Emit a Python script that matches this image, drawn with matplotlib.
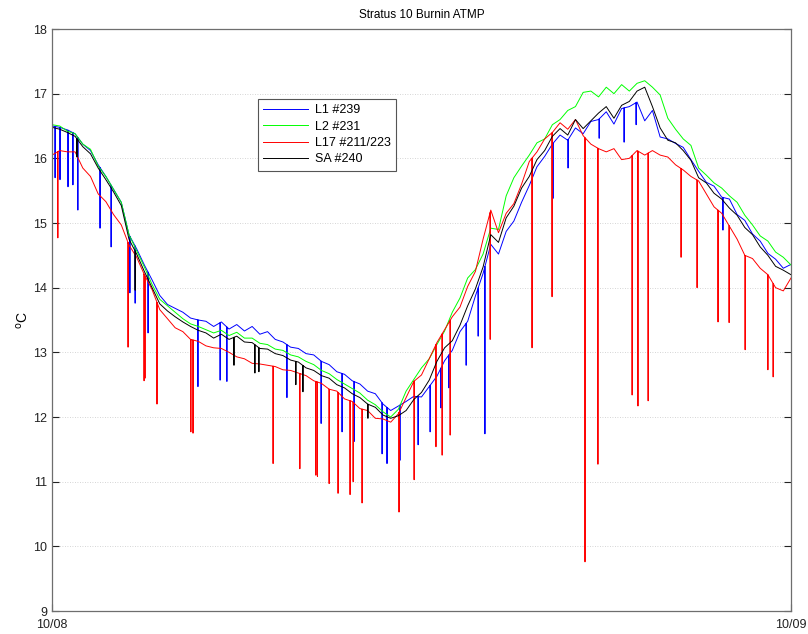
import numpy as np
import matplotlib
matplotlib.use("Agg")
import matplotlib.pyplot as plt

plt.rcParams['font.family'] = ['Liberation Sans', 'DejaVu Sans']

# time axis in hours after 10/08 00:00, 0.25 h spacing
hours = np.arange(0, 24.001, 0.25)

l2_231 = [16.52, 16.50, 16.42, 16.38, 16.22, 16.14, 15.88, 15.72, 15.52, 15.32,
          14.82, 14.57, 14.32, 14.05, 13.82, 13.72, 13.62, 13.52, 13.44, 13.40,
          13.35, 13.30, 13.34, 13.26, 13.31, 13.22, 13.22, 13.14, 13.12, 13.05,
          13.03, 12.96, 12.93, 12.86, 12.81, 12.72, 12.67, 12.58, 12.51, 12.44,
          12.37, 12.26, 12.19, 12.08, 12.00, 12.12, 12.40, 12.58, 12.76, 12.90,
          13.12, 13.33, 13.62, 13.84, 14.15, 14.28, 14.52, 14.92, 14.90, 15.42,
          15.70, 15.88, 16.05, 16.24, 16.30, 16.52, 16.60, 16.74, 16.80, 17.02,
          17.04, 16.95, 17.10, 17.00, 17.14, 17.04, 17.16, 17.20, 17.10, 16.98,
          16.62, 16.45, 16.30, 16.20, 15.85, 15.74, 15.62, 15.54, 15.42, 15.32,
          15.12, 14.97, 14.80, 14.72, 14.55, 14.47, 14.35]

sa_240 = [16.48, 16.45, 16.40, 16.34, 16.18, 16.07, 15.85, 15.67, 15.48, 15.27,
          14.75, 14.52, 14.25, 14.00, 13.75, 13.64, 13.55, 13.47, 13.40, 13.34,
          13.30, 13.22, 13.28, 13.20, 13.25, 13.16, 13.15, 13.06, 13.05, 12.98,
          12.95, 12.88, 12.85, 12.76, 12.72, 12.64, 12.60, 12.50, 12.45, 12.36,
          12.30, 12.20, 12.15, 12.03, 11.98, 12.02, 12.10, 12.27, 12.38, 12.57,
          12.86, 13.07, 13.18, 13.42, 13.72, 13.98, 14.32, 14.82, 14.70, 15.08,
          15.26, 15.54, 15.72, 15.98, 16.12, 16.34, 16.46, 16.36, 16.60, 16.46,
          16.58, 16.70, 16.80, 16.62, 16.82, 16.88, 17.04, 17.10, 16.80, 16.47,
          16.28, 16.24, 16.12, 15.97, 15.70, 15.62, 15.46, 15.37, 15.23, 15.12,
          14.93, 14.82, 14.63, 14.50, 14.33, 14.27, 14.20]

l1_239 = [16.50, 16.48, 16.44, 16.38, 16.22, 16.12, 15.90, 15.72, 15.52, 15.32,
          14.82, 14.60, 14.35, 14.12, 13.88, 13.74, 13.68, 13.62, 13.53, 13.50,
          13.48, 13.40, 13.47, 13.36, 13.43, 13.33, 13.40, 13.28, 13.32, 13.20,
          13.16, 13.08, 13.06, 12.98, 12.96, 12.86, 12.81, 12.70, 12.66, 12.56,
          12.51, 12.40, 12.36, 12.20, 12.10, 12.17, 12.24, 12.32, 12.31, 12.47,
          12.63, 12.87, 13.03, 13.32, 13.48, 13.87, 14.22, 14.67, 14.52, 14.87,
          15.03, 15.32, 15.58, 15.87, 16.03, 16.22, 16.36, 16.28, 16.47, 16.38,
          16.57, 16.60, 16.72, 16.53, 16.77, 16.80, 16.87, 16.58, 16.74, 16.33,
          16.30, 16.23, 16.17, 15.98, 15.80, 15.63, 15.57, 15.40, 15.37, 15.13,
          15.04, 14.83, 14.72, 14.53, 14.44, 14.30, 14.36]

l17_211_223 = [16.05, 16.12, 16.10, 16.10, 15.85, 15.72, 15.45, 15.33, 15.13, 14.97,
               14.66, 14.47, 14.20, 13.97, 13.66, 13.52, 13.38, 13.32, 13.20, 13.17,
               13.10, 13.07, 13.06, 13.00, 12.93, 12.90, 12.83, 12.82, 12.80, 12.78,
               12.73, 12.72, 12.68, 12.64, 12.56, 12.52, 12.43, 12.40, 12.28, 12.24,
               12.13, 12.10, 11.98, 11.97, 11.92, 12.05, 12.30, 12.55, 12.65, 12.90,
               13.15, 13.35, 13.55, 13.70, 14.02, 14.25, 14.75, 15.20, 14.85, 15.15,
               15.30, 15.60, 15.95, 16.10, 16.30, 16.40, 16.55, 16.45, 16.60, 16.35,
               16.22, 16.15, 16.10, 16.15, 15.98, 16.00, 16.12, 16.05, 16.12, 16.05,
               16.02, 15.90, 15.82, 15.72, 15.65, 15.45, 15.25, 15.15, 14.95, 14.75,
               14.50, 14.45, 14.30, 14.20, 14.00, 13.95, 14.15]

# drop-outs (spikes): time in hours, lowest value
l1_spike_t = [0.10, 0.26, 0.52, 0.68, 0.84, 1.56, 1.92, 2.53, 2.70, 3.12, 4.74, 5.46,
              5.68, 7.63, 8.74, 9.42, 9.81, 10.72, 10.88, 11.30, 11.89, 12.28, 12.63,
              12.89, 13.45, 13.84, 14.06, 16.27, 16.76, 17.77, 18.58, 18.97, 21.79]
l1_spike_v = [15.70, 15.67, 15.56, 15.59, 15.20, 14.92, 14.63, 13.92, 13.76, 13.30, 12.47, 12.57,
              12.55, 12.30, 11.90, 11.77, 11.62, 11.43, 11.28, 11.33, 11.57, 11.77, 12.14,
              12.45, 12.80, 13.25, 11.74, 15.38, 15.85, 16.31, 16.25, 16.52, 14.89]

l17_spike_t = [0.19, 2.47, 2.99, 3.02, 3.41, 4.51, 4.58, 7.18, 8.05, 8.57, 8.62, 9.00,
               9.29, 9.68, 9.78, 10.07, 11.27, 11.76, 12.47, 12.67, 12.93, 14.23, 15.59,
               16.24, 17.31, 17.73, 18.84, 19.03, 19.36, 20.43, 20.95, 21.63, 21.99,
               22.51, 23.25, 23.42]
l17_spike_v = [14.77, 13.08, 12.56, 12.60, 12.20, 11.77, 11.75, 11.28, 11.20, 11.10, 11.08, 10.97,
               10.82, 10.80, 11.00, 10.67, 10.53, 11.03, 11.54, 11.41, 11.72, 13.20, 13.07,
               13.86, 9.76, 11.27, 12.34, 12.17, 12.25, 14.47, 14.00, 13.47, 13.46,
               13.04, 12.73, 12.62]

sa_spike_t = [0.81, 2.70, 5.91, 6.59, 6.72, 7.92, 8.15, 10.26]
sa_spike_v = [16.02, 13.96, 12.80, 12.68, 12.70, 12.50, 12.39, 11.98]

series = [
    ("L1 #239", l1_239, l1_spike_t, l1_spike_v, (0, 0, 1)),
    ("L2 #231", l2_231, [], [], (0, 1, 0)),
    ("L17 #211/223", l17_211_223, l17_spike_t, l17_spike_v, (1, 0, 0)),
    ("SA #240", sa_240, sa_spike_t, sa_spike_v, (0, 0, 0)),
]

fig = plt.figure(figsize=(8.08, 6.34), dpi=100)
ax = fig.add_axes([52 / 808, 23 / 634, 739 / 808, 582 / 634])

for label, vals, st, sv, col in series:
    vals = np.asarray(vals)
    t = list(hours)
    v = list(vals)
    if len(st):
        base = np.interp(st, hours, vals)
        for ti, bi, lo in zip(st, base, sv):
            t += [ti - 1e-4, ti, ti + 1e-4]
            v += [bi, lo, bi]
        order = np.argsort(t, kind="stable")
        t = np.asarray(t)[order]
        v = np.asarray(v)[order]
    ax.plot(t, v, color=col, lw=0.7, label=label)

ax.set_xlim(0, 24)
ax.set_ylim(9, 18)
ax.set_xticks([0, 24])
ax.set_xticklabels(["10/08", "10/09"])
ax.set_yticks(range(9, 19))
ax.yaxis.grid(True, linestyle=(0, (1, 2)), color="#c8c8c8", lw=0.6)
ax.tick_params(direction="in", length=5, labelsize=9, right=True, top=False, colors="#222222")
ax.tick_params(axis="x", pad=6)
for s in ax.spines.values():
    s.set_color("#6e6e6e")
    s.set_linewidth(0.9)

ax.set_title("Stratus 10 Burnin ATMP", fontsize=8.5, pad=8)
ax.set_ylabel(r"$^{\mathrm{o}}$C", fontsize=10, labelpad=2)

leg = ax.legend(loc="upper left", bbox_to_anchor=(0.27, 0.891), fontsize=9,
                fancybox=False, edgecolor="#555555", framealpha=1,
                handlelength=3.6, borderpad=0.45, labelspacing=0.35, handletextpad=0.5)
leg.get_frame().set_linewidth(0.8)

fig.savefig("out.png", dpi=100)
